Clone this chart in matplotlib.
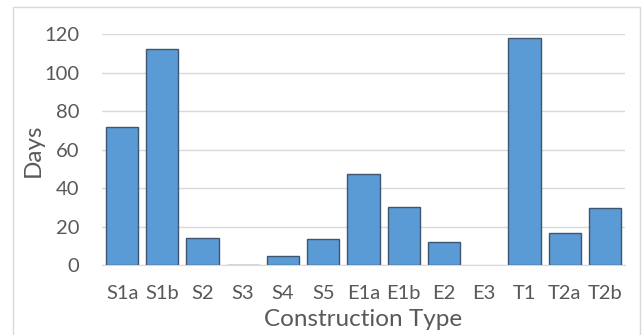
import matplotlib.pyplot as plt
import numpy as np
from matplotlib.patches import Rectangle

plt.rcParams['font.family'] = ['Lato', 'DejaVu Sans']

categories = ['S1a', 'S1b', 'S2', 'S3', 'S4', 'S5', 'E1a', 'E1b', 'E2', 'E3', 'T1', 'T2a', 'T2b']
days = [72, 112.4, 14.2, 0.4, 5.0, 13.8, 47.3, 30.3, 12.0, 0, 118.2, 16.8, 29.6]
yticks = [0, 20, 40, 60, 80, 100, 120]

W, H = 642, 335
fig = plt.figure(figsize=(W / 100, H / 100), dpi=100)
ax = fig.add_axes([102 / W, 1 - 265.3 / H, 523 / W, 231 / H])

# chart frame
fig.patches.append(Rectangle((13 / W, -0.01), 627 / W, 1 - 7 / H + 0.01,
                             transform=fig.transFigure, fill=False,
                             edgecolor='#d9d9d9', linewidth=1.0))

x = np.arange(len(categories))
bars = ax.bar(x, days, width=0.8, color='#5b9bd5', edgecolor='#3f5570', linewidth=1.0, zorder=3)
# empty categories get no outline
for b, v in zip(bars, days):
    if v == 0:
        b.set_linewidth(0)

ax.set_xlim(-0.5, len(categories) - 0.5)
ax.set_ylim(0, 120)
ax.set_yticks(yticks)
ax.set_xticks(x)
ax.set_xticklabels(categories)
ax.grid(axis='y', color='#d9d9d9', linewidth=1.0, zorder=0)
ax.set_axisbelow(True)
for side in ['top', 'right', 'left']:
    ax.spines[side].set_visible(False)
ax.spines['bottom'].set_color('#d9d9d9')
ax.tick_params(axis='both', length=0, labelsize=14.5, colors='#595959')
ax.tick_params(axis='x', pad=14)
ax.tick_params(axis='y', pad=16.5)

ax.set_xlabel('Construction Type', fontsize=17.5, color='#595959', labelpad=5.5)
ax.set_ylabel('Days', fontsize=17.5, color='#595959', labelpad=0)

fig.savefig('out.png', dpi=100)
